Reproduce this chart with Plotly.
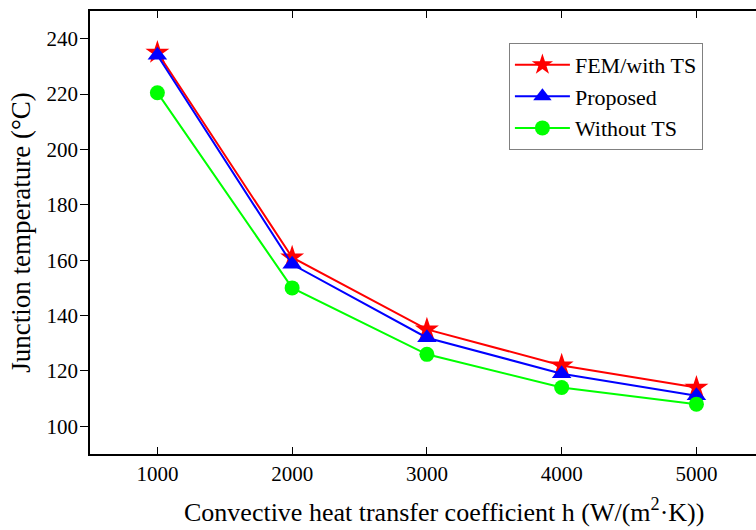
import plotly.graph_objects as go

h_values = [1000, 2000, 3000, 4000, 5000]
fem_with_ts = [235, 161, 135, 122, 114]
proposed = [234, 158.5, 132, 119, 111]
without_ts = [220.5, 150, 126, 114, 108]

x_tick_vals = [1000, 2000, 3000, 4000, 5000]
y_tick_vals = [100, 120, 140, 160, 180, 200, 220, 240]

x_title = "Convective heat transfer coefficient h (W/(m<sup>2</sup>·K))"
y_title = "Junction temperature (°C)"

FONT = "Liberation Serif"

fig = go.Figure()
fig.add_trace(go.Scatter(x=h_values, y=fem_with_ts, name="FEM/with TS", mode="lines+markers",
                         line=dict(color="#FF0000", width=2),
                         marker=dict(symbol="star", size=18, color="#FF0000")))
fig.add_trace(go.Scatter(x=h_values, y=proposed, name="Proposed", mode="lines+markers",
                         line=dict(color="#0000FF", width=2),
                         marker=dict(symbol="triangle-up", size=17, color="#0000FF")))
fig.add_trace(go.Scatter(x=h_values, y=without_ts, name="Without TS", mode="lines+markers",
                         line=dict(color="#00FF00", width=2),
                         marker=dict(symbol="circle", size=15, color="#00FF00")))

x_range = [500, 5442]
fig.update_layout(
    width=756, height=530,
    margin=dict(l=90, r=0, t=11, b=76, autoexpand=False),
    paper_bgcolor="white", plot_bgcolor="white",
    font=dict(family=FONT, color="black", size=21),
    showlegend=True,
    legend=dict(x=0.629, y=0.928, xanchor="left", yanchor="top",
                bgcolor="white", bordercolor="#808080", borderwidth=1,
                font=dict(family=FONT, size=22, color="black"),
                itemwidth=55, tracegroupgap=0),
    xaxis=dict(range=x_range, tickmode="array", tickvals=x_tick_vals, ticks="inside", ticklen=7,
               tickwidth=1.2, tickcolor="black", showline=True, linecolor="black",
               linewidth=1.5, showgrid=False, zeroline=False, automargin=False,
               tickfont=dict(family=FONT, size=21, color="black")),
    xaxis2=dict(range=x_range, overlaying="x", side="top", tickmode="array", tickvals=x_tick_vals,
                ticks="inside", ticklen=7, tickwidth=1.2, tickcolor="black",
                showline=True, linecolor="black", linewidth=1.5, showgrid=False,
                zeroline=False, showticklabels=False, automargin=False),
    yaxis=dict(range=[90, 250], tickmode="array", tickvals=y_tick_vals, ticks="outside", ticklen=8,
               tickwidth=1.2, tickcolor="black", showline=True, linecolor="black",
               linewidth=1.5, showgrid=False, zeroline=False, automargin=False,
               tickfont=dict(family=FONT, size=21, color="black"), ticklabelstandoff=-2,
               title=dict(text=y_title, font=dict(family=FONT, size=27), standoff=8)),
    annotations=[dict(text=x_title, xref="paper", yref="paper", x=0.532, y=-0.128,
                      xanchor="center", yanchor="middle", showarrow=False,
                      font=dict(family=FONT, size=26, color="black"))],
)
fig.add_trace(go.Scatter(x=[h_values[0]], y=[fem_with_ts[0]], xaxis="x2", mode="markers",
                         marker=dict(opacity=0), showlegend=False, hoverinfo="skip"))

fig.write_html("out.html")
